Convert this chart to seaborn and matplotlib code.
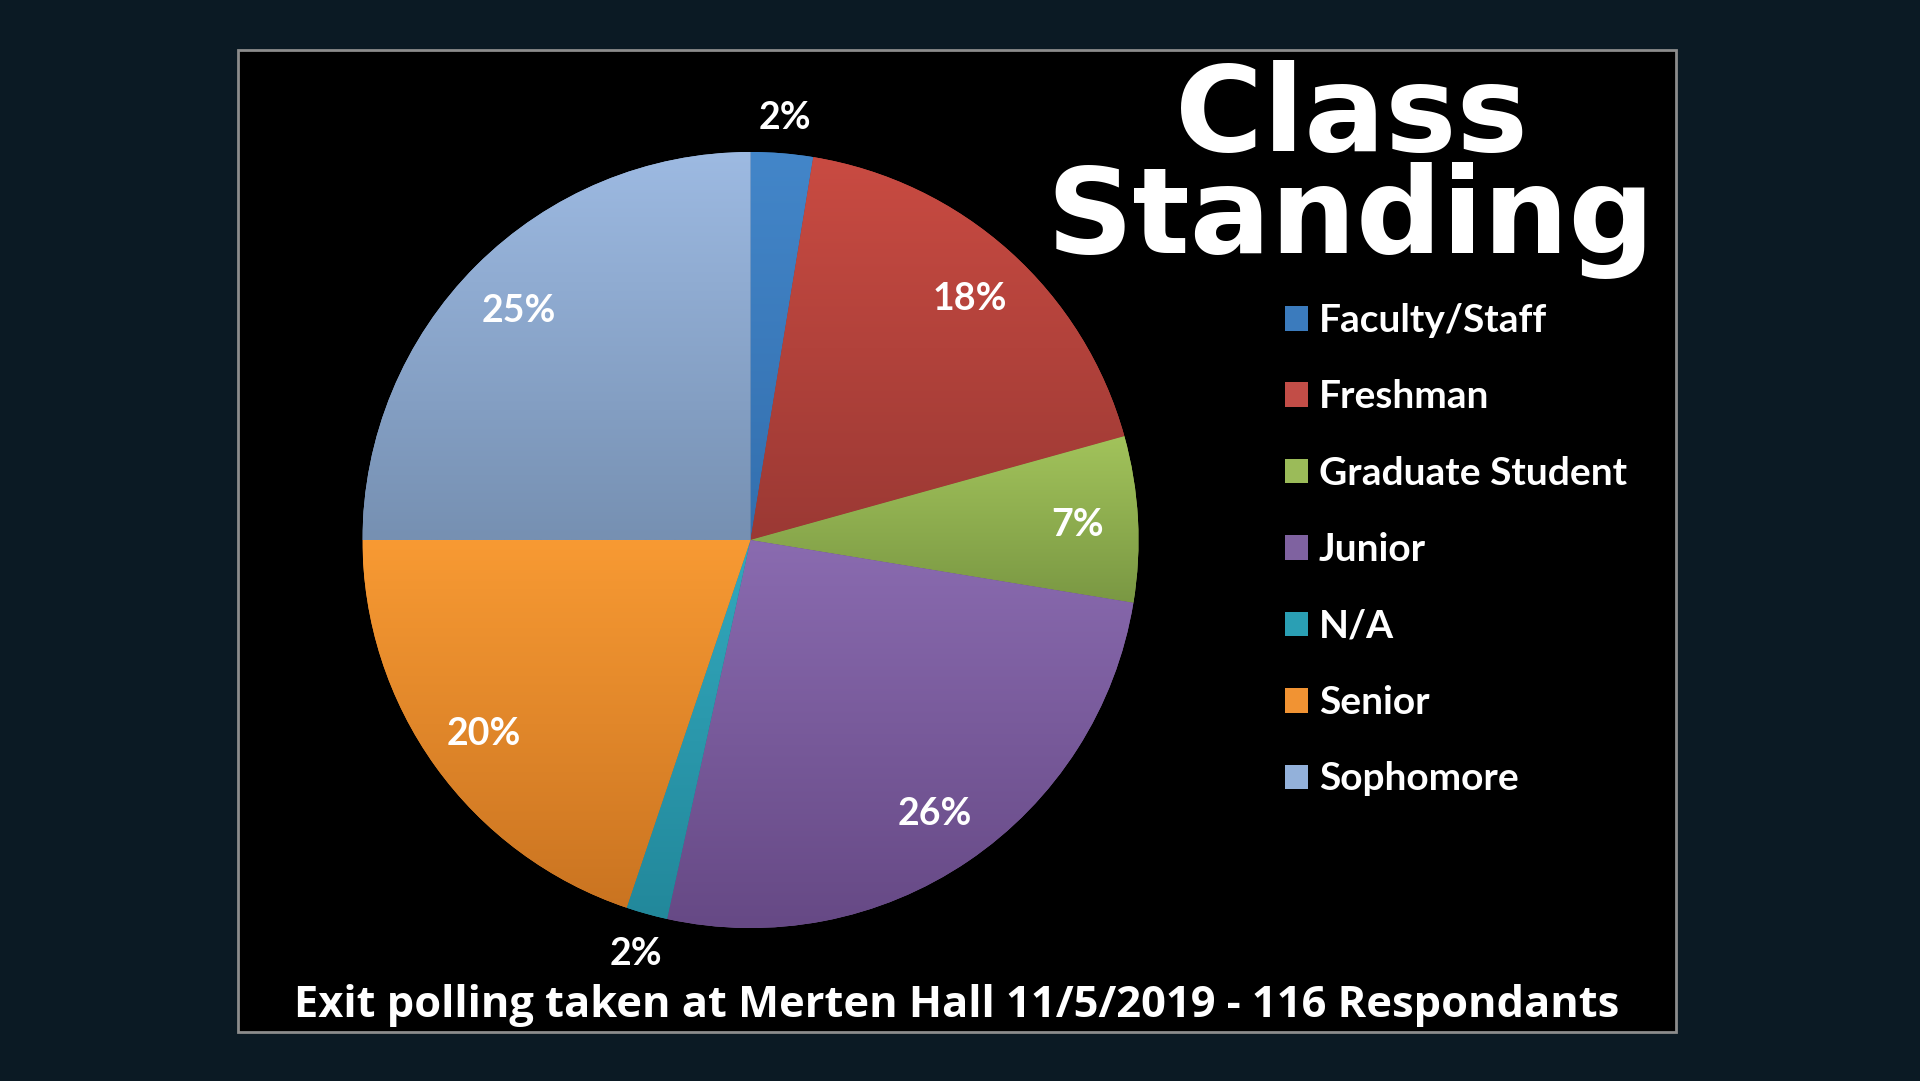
import matplotlib
matplotlib.use("Agg")
import matplotlib.pyplot as plt
import seaborn as sns
import numpy as np
from matplotlib.patches import Rectangle
from matplotlib.colors import LinearSegmentedColormap
from matplotlib.font_manager import FontProperties

# ---------------- data ----------------
categories = ["Faculty/Staff", "Freshman", "Graduate Student", "Junior", "N/A", "Senior", "Sophomore"]
counts = [3, 21, 8, 30, 2, 23, 29]
pct_labels = ["2%", "18%", "7%", "26%", "2%", "20%", "25%"]
title_lines = ["Class", "Standing"]
footer_text = "Exit polling taken at Merten Hall 11/5/2019 - 116 Respondants"

# ---------------- style ----------------
color_top = ["#4386c9", "#c94b42", "#a2c35b", "#8a6bb0", "#33a8bd", "#f89a33", "#9dbae2"]
color_bottom = ["#336fae", "#9b3934", "#7a9843", "#664985", "#22889b", "#ca7421", "#7690b2"]
legend_colors = ["#3b7bbd", "#c24d47", "#9bbb59", "#7f62a0", "#2a9fb4", "#f19333", "#93b1da"]

W, H = 1920, 1081
sns.set_theme(style="dark")
plt.rcParams["font.family"] = ["Lato", "DejaVu Sans"]

fig = plt.figure(figsize=(W / 100, H / 100), dpi=100)
fig.patch.set_facecolor("#0b1a24")

# black panel with grey border
panel = Rectangle((238 / W, (H - 1032) / H), (1676 - 238) / W, (1032 - 50) / H,
                  transform=fig.transFigure, facecolor="black",
                  edgecolor="#8c8c8c", linewidth=2, zorder=0)
fig.add_artist(panel)

# pie axes
cx, cy, R = 750.5, 540, 388
ax = fig.add_axes([(cx - R) / W, (H - cy - R) / H, 2 * R / W, 2 * R / H])
ax.set_facecolor("none")
wedges, _ = ax.pie(counts, startangle=90, counterclock=False, radius=1,
                   colors=legend_colors, wedgeprops=dict(linewidth=0))

grad = np.linspace(0, 1, 256).reshape(-1, 1)
for w, ct, cb in zip(wedges, color_top, color_bottom):
    bb = w.get_path().get_extents()
    cmap = LinearSegmentedColormap.from_list("g", [ct, cb])
    im = ax.imshow(grad, cmap=cmap, extent=[bb.x0, bb.x1, bb.y0, bb.y1],
                   origin="upper", aspect="auto", interpolation="bilinear",
                   zorder=w.get_zorder() + 0.5)
    im.set_clip_path(w)

total = sum(counts)
for w, c, lbl in zip(wedges, counts, pct_labels):
    mid = np.deg2rad((w.theta1 + w.theta2) / 2)
    d = 0.845 if c / total >= 0.05 else 1.10
    ax.text(d * np.cos(mid), d * np.sin(mid), lbl, ha="center", va="center_baseline",
            color="white", fontsize=27, fontweight="bold",
            family=["Lato", "DejaVu Sans"], zorder=10)

ax.set_xlim(-1, 1)
ax.set_ylim(-1, 1)
ax.set_aspect("equal")
ax.axis("off")

# legend
leg = fig.legend(handles=wedges, labels=categories, loc="upper left",
                 bbox_to_anchor=(1285 / W, (H - 303) / H), frameon=False,
                 prop={"weight": "bold", "family": ["Lato", "DejaVu Sans"], "size": 28},
                 labelcolor="white", handlelength=0.59, handleheight=0.59,
                 handletextpad=0.28, labelspacing=1.065, borderpad=0, borderaxespad=0)

# title (single two-line text, anchored at the baseline of the last line)
title = fig.text(1351 / W, (H - 253) / H, "\n".join(title_lines), ha="center", va="baseline",
                 multialignment="center", color="white", fontsize=86, fontweight="bold",
                 family=["DejaVu Sans"], linespacing=0.8)

# footer
ft = fig.text(956.5 / W, (H - 1017) / H, footer_text, ha="center", va="baseline",
              color="white", fontsize=27, fontweight="bold", family=["Open Sans", "DejaVu Sans"])

# fit sizes
fig.canvas.draw()
r = fig.canvas.get_renderer()
fp = FontProperties(family=["DejaVu Sans"], weight="bold", size=86)
w2, _, _ = r.get_text_width_height_descent(title_lines[1], fp, ismath=False)
fs = 86 * 608 / w2
fp.set_size(fs)
_, lp_h, lp_d = r.get_text_width_height_descent("lp", fp, ismath=False)
gap = 102.0  # baseline-to-baseline distance in pixels
title.set_fontsize(fs)
title.set_linespacing((gap - lp_d) / (lp_h - lp_d))

wf = ft.get_window_extent(r).width
ft.set_fontsize(27 * 1323 / wf)

fig.savefig("out.png", dpi=100, facecolor=fig.get_facecolor())
